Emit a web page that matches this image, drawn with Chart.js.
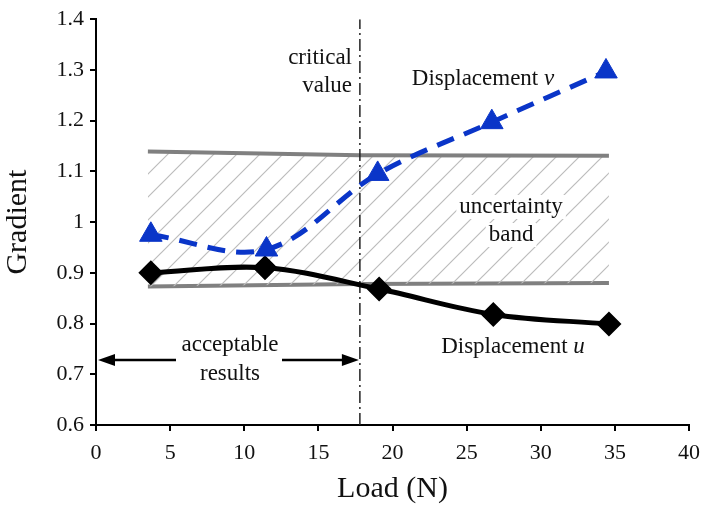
<!DOCTYPE html>
<html lang="en">
<head>
    <meta charset="UTF-8">
    <title>Gradient vs Load</title>
    <style>
        body { margin: 0; padding: 0; background: #fff; }
        .chart-box { width: 709px; height: 509px; }
    </style>
    <script src="https://cdn.jsdelivr.net/npm/chart.js"></script>
</head>
<body>
<div class="chart-box"><canvas id="gradChart" width="709" height="509"></canvas></div>
<script>
    // Data
    const loadU = [3.7, 11.4, 19.1, 26.8, 34.6];
    const gradU = [0.90, 0.91, 0.868, 0.818, 0.799];
    const loadV = [3.7, 11.5, 19.0, 26.7, 34.4];
    const gradV = [0.975, 0.946, 1.095, 1.197, 1.297];
    const bandLoad = [3.5, 17.8, 34.6];
    const bandTop = [1.139, 1.132, 1.131];
    const bandBottom = [0.873, 0.878, 0.880];
    const criticalLoad = 17.8;
    const xTicks = [0, 5, 10, 15, 20, 25, 30, 35, 40];
    const yTicks = [0.6, 0.7, 0.8, 0.9, 1.0, 1.1, 1.2, 1.3, 1.4];

    const serif = "'Liberation Serif', 'Times New Roman', serif";
    const pts = (xs, ys) => xs.map((x, i) => ({ x: x, y: ys[i] }));

    // diagonal hatch for the uncertainty band
    function hatch() {
        const s = 23;
        const c = document.createElement('canvas');
        c.width = s; c.height = s;
        const g = c.getContext('2d');
        g.strokeStyle = '#bcbcbc';
        g.lineWidth = 1.2;
        g.beginPath();
        g.moveTo(0, s); g.lineTo(s, 0);
        g.moveTo(-s / 2, s / 2); g.lineTo(s / 2, -s / 2);
        g.moveTo(s / 2, s * 1.5); g.lineTo(s * 1.5, s / 2);
        g.stroke();
        return g.createPattern(c, 'repeat');
    }

    // text + arrow annotations
    const notes = {
        id: 'notes',
        afterDatasetsDraw(chart) {
            const ctx = chart.ctx;
            const xs = chart.scales.x, ys = chart.scales.y;
            const f = '23px ' + serif;
            ctx.save();
            ctx.font = f;
            ctx.fillStyle = '#111';
            ctx.textBaseline = 'middle';

            // uncertainty band label with white knock-out
            ctx.textAlign = 'center';
            const bx = xs.getPixelForValue(28.0);
            [['uncertainty', 207], ['band', 235]].forEach(([t, y]) => {
                const w = ctx.measureText(t).width;
                ctx.fillStyle = '#fff';
                ctx.fillRect(bx - w / 2 - 3, y - 12, w + 6, 24);
                ctx.fillStyle = '#111';
                ctx.fillText(t, bx, y);
            });

            // critical value
            ctx.textAlign = 'right';
            ctx.fillText('critical', 352, 58);
            ctx.fillText('value', 352, 86);

            // series labels with italic variable
            function label(main, v, cx, y) {
                ctx.font = f;
                const w1 = ctx.measureText(main + ' ').width;
                ctx.font = 'italic ' + f;
                const w2 = ctx.measureText(v).width;
                const x0 = cx - (w1 + w2) / 2;
                ctx.textAlign = 'left';
                ctx.font = f;
                ctx.fillText(main + ' ', x0, y);
                ctx.font = 'italic ' + f;
                ctx.fillText(v, x0 + w1, y);
            }
            label('Displacement', 'v', 483, 79);
            label('Displacement', 'u', 513, 347);

            // acceptable results
            ctx.font = f;
            ctx.textAlign = 'center';
            ctx.fillText('acceptable', 230, 345);
            ctx.fillText('results', 230, 374);

            const ay = ys.getPixelForValue(0.728);
            const x0 = xs.getPixelForValue(0) + 2;
            const x1 = xs.getPixelForValue(criticalLoad) - 1;
            ctx.strokeStyle = '#000';
            ctx.fillStyle = '#000';
            ctx.lineWidth = 2.5;
            ctx.beginPath();
            ctx.moveTo(x0 + 12, ay); ctx.lineTo(176, ay);
            ctx.moveTo(282, ay); ctx.lineTo(x1 - 12, ay);
            ctx.stroke();
            ctx.beginPath();
            ctx.moveTo(x0, ay); ctx.lineTo(x0 + 17, ay - 6); ctx.lineTo(x0 + 17, ay + 6); ctx.closePath();
            ctx.moveTo(x1, ay); ctx.lineTo(x1 - 17, ay - 6); ctx.lineTo(x1 - 17, ay + 6); ctx.closePath();
            ctx.fill();
            ctx.restore();
        }
    };

    const ctx = document.getElementById('gradChart').getContext('2d');
    new Chart(ctx, {
        type: 'scatter',
        data: {
            datasets: [
                {
                    label: 'band top', data: pts(bandLoad, bandTop), showLine: true,
                    borderColor: '#808080', borderWidth: 4, pointRadius: 0,
                    fill: '+1', backgroundColor: hatch(), order: 4
                },
                {
                    label: 'band bottom', data: pts(bandLoad, bandBottom), showLine: true,
                    borderColor: '#808080', borderWidth: 4, pointRadius: 0, fill: false, order: 4
                },
                {
                    label: 'critical', data: [{ x: criticalLoad, y: 0.6 }, { x: criticalLoad, y: 1.4 }],
                    showLine: true, borderColor: '#222', borderWidth: 1.5,
                    borderDash: [12, 4, 2, 4], pointRadius: 0, order: 3
                },
                {
                    label: 'Displacement u', data: pts(loadU, gradU), showLine: true,
                    borderColor: '#000', backgroundColor: '#000', borderWidth: 5,
                    tension: 0.35, pointStyle: 'rectRot', pointRadius: 9, order: 1
                },
                {
                    label: 'Displacement v', data: pts(loadV, gradV), showLine: true,
                    borderColor: '#0a35c8', backgroundColor: '#0a35c8', borderWidth: 5,
                    borderDash: [18, 11], tension: 0.35, pointStyle: 'triangle', pointRadius: 13,
                    pointBorderWidth: 1, order: 0
                }
            ]
        },
        options: {
            responsive: false,
            animation: false,
            layout: { padding: { top: 13, right: 19, left: 0, bottom: 0 } },
            plugins: { legend: { display: false }, tooltip: { enabled: false } },
            scales: {
                x: {
                    type: 'linear', min: 0, max: 40,
                    afterBuildTicks: s => { s.ticks = xTicks.map(v => ({ value: v })); },
                    afterFit: s => { s.height = 84; },
                    border: { display: true, color: '#000', width: 2 },
                    grid: { drawOnChartArea: false, drawTicks: true, tickLength: 6, color: '#000', lineWidth: 2 },
                    ticks: { color: '#111', font: { family: serif, size: 22 }, padding: 9 },
                    title: { display: true, text: 'Load (N)', color: '#111', font: { family: serif, size: 30 }, padding: { top: 0, bottom: 2 } }
                },
                y: {
                    type: 'linear', min: 0.6, max: 1.4,
                    afterBuildTicks: s => { s.ticks = yTicks.map(v => ({ value: v })); },
                    afterFit: s => { s.width = 96; },
                    border: { display: true, color: '#000', width: 2 },
                    grid: { drawOnChartArea: false, drawTicks: true, tickLength: 6, color: '#000', lineWidth: 2 },
                    ticks: {
                        color: '#111', font: { family: serif, size: 22 }, padding: 6,
                        callback: v => (v === 1 ? '1' : v.toFixed(1))
                    },
                    title: { display: true, text: 'Gradient', color: '#111', font: { family: serif, size: 30 }, padding: { top: 0, bottom: 4 } }
                }
            }
        },
        plugins: [notes]
    });
</script>
</body>
</html>
